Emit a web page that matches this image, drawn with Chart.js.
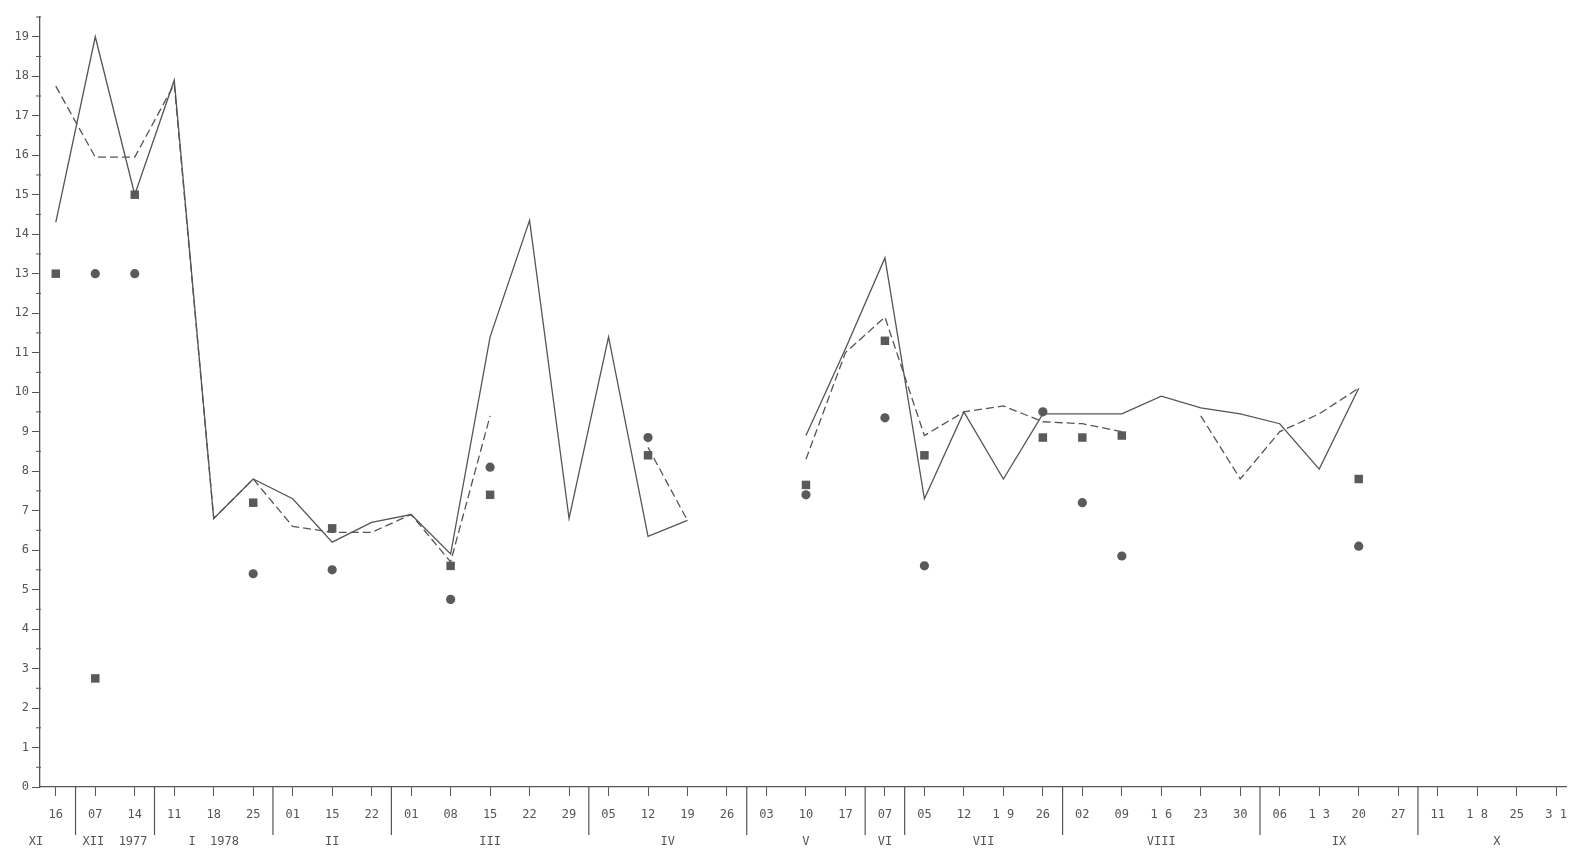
<!DOCTYPE html>
<html lang="en">

<head>
    <meta charset="UTF-8">
    <title>Weekly readings XI 1977 - X 1978</title>
    <script src="https://cdn.jsdelivr.net/npm/chart.js@4.4.0/dist/chart.umd.min.js"></script>
    <style>
        body { margin: 0; background: #ffffff; }
    </style>
</head>

<body>
    <canvas id="chart" width="1576" height="854"></canvas>
    <script>
        // day of each weekly sample (one per x position)
        const dayLabels = ['16', '07', '14', '11', '18', '25', '01', '15', '22', '01', '08', '15', '22', '29',
            '05', '12', '19', '26', '03', '10', '17', '07', '05', '12', '1 9', '26', '02', '09', '1 6', '23', '30',
            '06', '1 3', '20', '27', '11', '1 8', '25', '3 1'];

        // months: label and first / last sample index
        const monthNames = ['XI', 'XII  1977', 'I  1978', 'II', 'III', 'IV', 'V', 'VI', 'VII', 'VIII', 'IX', 'X'];
        const monthFirst = [0, 1, 3, 6, 9, 14, 18, 21, 22, 26, 31, 35];
        const monthLast = [0, 2, 5, 8, 13, 17, 20, 21, 25, 30, 34, 38];

        // solid line
        const solidValues = [14.3, 19.0, 15.0, 17.9, 6.8, 7.8, 7.3, 6.2, 6.7, 6.9, 5.9, 11.4, 14.35, 6.8, 11.4, 6.35,
            6.75, null, null, 8.9, 11.1, 13.4, 7.3, 9.5, 7.8, 9.45, 9.45, 9.45, 9.9, 9.6, 9.45, 9.2, 8.05, 10.1,
            null, null, null, null, null];

        // dashed line
        const dashedValues = [17.75, 15.95, 15.95, 17.8, 6.8, 7.8, 6.6, 6.45, 6.45, 6.9, 5.7, 9.4, null, null, null,
            8.6, 6.75, null, null, 8.3, 11.0, 11.9, 8.9, 9.5, 9.65, 9.25, 9.2, 9.0, null, 9.4, 7.8, 9.0, 9.45, 10.1,
            null, null, null, null, null];

        // squares
        const squareValues = [13.0, 2.75, 15.0, null, null, 7.2, null, 6.55, null, null, 5.6, 7.4, null, null, null,
            8.4, null, null, null, 7.65, null, 11.3, 8.4, null, null, 8.85, 8.85, 8.9, null, null, null, null, null,
            7.8, null, null, null, null, null];

        // dots
        const circleValues = [null, 13.0, 13.0, null, null, 5.4, null, 5.5, null, null, 4.75, 8.1, null, null, null,
            8.85, null, null, null, 7.4, null, 9.35, 5.6, null, null, 9.5, 7.2, 5.85, null, null, null, null, null,
            6.1, null, null, null, null, null];

        const yTicks = [0, 1, 2, 3, 4, 5, 6, 7, 8, 9, 10, 11, 12, 13, 14, 15, 16, 17, 18, 19];

        const ink = '#555555';
        const fontFamily = "'DejaVu Sans Mono', 'Liberation Mono', monospace";
        const monoFont = { family: fontFamily, size: 12 };

        function toPoints(values) {
            return values.map((v, i) => ({ x: i, y: v }));
        }

        // month separators, month names and half-step marks on the y axis
        const axisExtras = {
            id: 'axisExtras',
            afterDraw(chart) {
                const ctx = chart.ctx;
                const x = chart.scales.x;
                const y = chart.scales.y;
                const bottom = chart.chartArea.bottom;
                ctx.save();
                ctx.strokeStyle = ink;
                ctx.lineWidth = 1.2;
                for (let m = 0; m < monthFirst.length - 1; m++) {
                    const px = x.getPixelForValue(monthLast[m] + 0.5);
                    ctx.beginPath();
                    ctx.moveTo(px, bottom);
                    ctx.lineTo(px, bottom + 48);
                    ctx.stroke();
                }
                ctx.fillStyle = ink;
                ctx.font = '12px ' + fontFamily;
                ctx.textAlign = 'center';
                ctx.textBaseline = 'middle';
                for (let m = 0; m < monthNames.length; m++) {
                    let mid = (monthFirst[m] + monthLast[m]) / 2;
                    if (m === 0) mid -= 0.5;
                    ctx.fillText(monthNames[m], x.getPixelForValue(mid), bottom + 55);
                }
                // minor marks every half unit
                ctx.lineWidth = 1;
                const left = chart.chartArea.left;
                for (let i = 0; i < yTicks.length; i++) {
                    const py = y.getPixelForValue(yTicks[i] + 0.5);
                    ctx.beginPath();
                    ctx.moveTo(left - 4, py);
                    ctx.lineTo(left + 1, py);
                    ctx.stroke();
                }
                ctx.restore();
            }
        };

        const ctx = document.getElementById('chart').getContext('2d');
        const myChart = new Chart(ctx, {
            type: 'line',
            data: {
                datasets: [{
                    label: 'solid',
                    data: toPoints(solidValues),
                    borderColor: ink,
                    borderWidth: 1.3,
                    pointRadius: 0,
                    spanGaps: false
                }, {
                    label: 'dashed',
                    data: toPoints(dashedValues),
                    borderColor: ink,
                    borderWidth: 1.3,
                    borderDash: [8, 4],
                    pointRadius: 0,
                    spanGaps: false
                }, {
                    label: 'squares',
                    data: toPoints(squareValues),
                    showLine: false,
                    pointStyle: 'rect',
                    pointRadius: 6,
                    backgroundColor: '#5a5a5a',
                    borderColor: '#5a5a5a',
                    borderWidth: 0
                }, {
                    label: 'circles',
                    data: toPoints(circleValues),
                    showLine: false,
                    pointStyle: 'circle',
                    pointRadius: 4.6,
                    backgroundColor: '#5a5a5a',
                    borderColor: '#5a5a5a',
                    borderWidth: 0
                }]
            },
            options: {
                responsive: false,
                animation: false,
                layout: { padding: { top: 17, right: 10, left: 0, bottom: 0 } },
                plugins: {
                    legend: { display: false },
                    tooltip: { enabled: false }
                },
                scales: {
                    x: {
                        type: 'linear',
                        min: -0.4,
                        max: 38.25,
                        afterFit: s => {
                            s.height = 67;
                            s.paddingLeft = 0;
                            s.paddingRight = 0;
                        },
                        afterBuildTicks: s => {
                            s.ticks = dayLabels.map((d, i) => ({ value: i }));
                        },
                        border: { color: ink, width: 1.3 },
                        grid: { drawOnChartArea: false, tickLength: 9, tickColor: ink, tickWidth: 1 },
                        ticks: {
                            autoSkip: false,
                            maxRotation: 0,
                            padding: 12,
                            color: ink,
                            font: monoFont,
                            callback: function (value) {
                                return dayLabels[value];
                            }
                        }
                    },
                    y: {
                        min: 0,
                        max: 19.5,
                        afterFit: s => { s.width = 40; },
                        afterBuildTicks: s => {
                            s.ticks = yTicks.map(v => ({ value: v }));
                        },
                        border: { color: ink, width: 1.3 },
                        grid: { drawOnChartArea: false, tickLength: 8, tickColor: ink, tickWidth: 1 },
                        ticks: {
                            padding: 3,
                            color: ink,
                            font: monoFont
                        }
                    }
                }
            },
            plugins: [axisExtras]
        });
    </script>

</body>

</html>
